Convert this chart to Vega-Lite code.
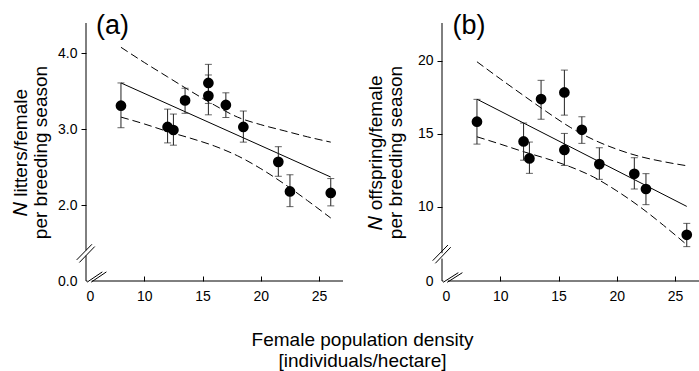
{
  "$schema": "https://vega.github.io/schema/vega-lite/v6.json",
  "padding": {"left": 11, "top": 12, "right": 0, "bottom": 0},
  "background": "#ffffff",
  "config": {
    "font": "Liberation Sans",
    "view": {"stroke": null},
    "axis": {"grid": false, "domain": false, "labelFont": "Liberation Sans", "titleFont": "Liberation Sans", "labelColor": "#000", "titleColor": "#000", "tickColor": "#000", "labelFontSize": 14, "titleFontWeight": "normal", "titleFontSize": 19, "titleLineHeight": 20}
  },
  "title": {"text": ["Female population density", "[individuals/hectare]"], "orient": "bottom", "anchor": "middle", "frame": "bounds", "fontSize": 19, "fontWeight": "normal", "font": "Liberation Sans", "offset": 28, "lineHeight": 21, "dx": 7, "color": "#000"},
  "datasets": {
    "aPts": [
      {"x": 8, "y": 3.31, "lo": 3.02, "hi": 3.61},
      {"x": 12, "y": 3.03, "lo": 2.82, "hi": 3.265},
      {"x": 12.5, "y": 2.99, "lo": 2.79, "hi": 3.2},
      {"x": 13.5, "y": 3.38, "lo": 3.21, "hi": 3.54},
      {"x": 15.5, "y": 3.61, "lo": 3.34, "hi": 3.855},
      {"x": 15.5, "y": 3.44, "lo": 3.19, "hi": 3.715},
      {"x": 17, "y": 3.32, "lo": 3.155, "hi": 3.48},
      {"x": 18.5, "y": 3.03, "lo": 2.83, "hi": 3.24},
      {"x": 21.5, "y": 2.57, "lo": 2.38, "hi": 2.77},
      {"x": 22.5, "y": 2.18, "lo": 1.98, "hi": 2.4},
      {"x": 26, "y": 2.16, "lo": 1.99, "hi": 2.35}
    ],
    "aLines": [
      {"s": "fit", "x": 8, "y": 3.61}, {"s": "fit", "x": 26, "y": 2.37},
      {"s": "upper", "x": 8, "y": 4.08}, {"s": "upper", "x": 10, "y": 3.88}, {"s": "upper", "x": 12, "y": 3.69}, {"s": "upper", "x": 14, "y": 3.5}, {"s": "upper", "x": 16, "y": 3.32}, {"s": "upper", "x": 18, "y": 3.16}, {"s": "upper", "x": 20, "y": 3.06}, {"s": "upper", "x": 22, "y": 2.98}, {"s": "upper", "x": 24, "y": 2.9}, {"s": "upper", "x": 26, "y": 2.83},
      {"s": "lower", "x": 8, "y": 3.16}, {"s": "lower", "x": 10, "y": 3.07}, {"s": "lower", "x": 12, "y": 2.97}, {"s": "lower", "x": 14, "y": 2.88}, {"s": "lower", "x": 16, "y": 2.78}, {"s": "lower", "x": 18, "y": 2.65}, {"s": "lower", "x": 20, "y": 2.48}, {"s": "lower", "x": 22, "y": 2.28}, {"s": "lower", "x": 24, "y": 2.06}, {"s": "lower", "x": 26, "y": 1.83}
    ],
    "aAxis": [
      {"x": 5, "y": 1.404, "x2": 5, "y2": 4.4},
      {"x": 5, "y": 1.0, "x2": 5, "y2": 1.335},
      {"x": 5, "y": 1.0, "x2": 5.12, "y2": 1.0},
      {"x": 5.5, "y": 1.0, "x2": 27.05, "y2": 1.0},
      {"x": 4.2, "y": 1.278, "x2": 5.51, "y2": 1.484},
      {"x": 4.43, "y": 1.244, "x2": 5.75, "y2": 1.454},
      {"x": 5.1, "y": 0.985, "x2": 6.4, "y2": 1.12},
      {"x": 5.45, "y": 0.985, "x2": 6.75, "y2": 1.12}
    ],
    "bPts": [
      {"x": 8, "y": 15.83, "lo": 14.3, "hi": 17.36},
      {"x": 12, "y": 14.48, "lo": 13.2, "hi": 15.74},
      {"x": 12.5, "y": 13.32, "lo": 12.3, "hi": 14.44},
      {"x": 13.5, "y": 17.38, "lo": 16.0, "hi": 18.66},
      {"x": 15.5, "y": 17.83, "lo": 16.28, "hi": 19.36},
      {"x": 15.5, "y": 13.9, "lo": 12.84, "hi": 15.03},
      {"x": 17, "y": 15.28, "lo": 14.35, "hi": 16.17},
      {"x": 18.5, "y": 12.93, "lo": 11.89, "hi": 14.05},
      {"x": 21.5, "y": 12.27, "lo": 11.23, "hi": 13.37},
      {"x": 22.5, "y": 11.23, "lo": 10.16, "hi": 12.28},
      {"x": 26, "y": 8.1, "lo": 7.29, "hi": 8.88}
    ],
    "bLines": [
      {"s": "fit", "x": 8, "y": 17.37}, {"s": "fit", "x": 26, "y": 10.04},
      {"s": "upper", "x": 8, "y": 19.93}, {"s": "upper", "x": 10, "y": 18.76}, {"s": "upper", "x": 12, "y": 17.62}, {"s": "upper", "x": 14, "y": 16.5}, {"s": "upper", "x": 16, "y": 15.45}, {"s": "upper", "x": 18, "y": 14.6}, {"s": "upper", "x": 20, "y": 13.95}, {"s": "upper", "x": 22, "y": 13.45}, {"s": "upper", "x": 24, "y": 13.1}, {"s": "upper", "x": 26, "y": 12.82},
      {"s": "lower", "x": 8, "y": 14.8}, {"s": "lower", "x": 10, "y": 14.3}, {"s": "lower", "x": 12, "y": 13.78}, {"s": "lower", "x": 14, "y": 13.3}, {"s": "lower", "x": 16, "y": 12.75}, {"s": "lower", "x": 18, "y": 12.05}, {"s": "lower", "x": 20, "y": 11.1}, {"s": "lower", "x": 22, "y": 10.0}, {"s": "lower", "x": 24, "y": 8.75}, {"s": "lower", "x": 26, "y": 7.42}
    ],
    "bAxis": [
      {"x": 5, "y": 6.84, "x2": 5, "y2": 22.58},
      {"x": 5, "y": 4.94, "x2": 5, "y2": 6.47},
      {"x": 5, "y": 4.94, "x2": 5.12, "y2": 4.94},
      {"x": 5.5, "y": 4.94, "x2": 27.05, "y2": 4.94},
      {"x": 4.2, "y": 6.33, "x2": 5.51, "y2": 7.4},
      {"x": 4.43, "y": 6.15, "x2": 5.75, "y2": 7.25},
      {"x": 5.1, "y": 4.85, "x2": 6.4, "y2": 5.51},
      {"x": 5.45, "y": 4.85, "x2": 6.75, "y2": 5.51}
    ]
  },
  "hconcat": [
    {
      "width": 257,
      "height": 258,
      "encoding": {
        "x": {"type": "quantitative", "scale": {"domain": [5, 27.05], "nice": false, "zero": false},
          "axis": {"title": null, "values": [5, 10, 15, 20, 25], "labelExpr": "datum.value < 6 ? '0' : datum.label", "tickSize": -5, "labelPadding": 13, "tickOpacity": {"condition": {"test": "datum.value < 6", "value": 0}, "value": 1}}},
        "y": {"type": "quantitative", "scale": {"domain": [1.0, 4.4], "nice": false, "zero": false},
          "axis": {"title": ["𝑁 litters/female", "per breeding season"], "values": [1, 2, 3, 4], "labelExpr": "datum.value < 1.5 ? '0.0' : format(datum.value, '.1f')", "tickSize": 5, "labelPadding": 4, "titlePadding": 7, "tickOpacity": {"condition": {"test": "datum.value < 1.5", "value": 0}, "value": 1}}}
      },
      "layer": [
        {
          "data": {"name": "aLines"},
          "transform": [{"filter": "datum.s == 'fit'"}],
          "mark": {"type": "line", "color": "#000", "strokeWidth": 1},
          "encoding": {"x": {"field": "x"}, "y": {"field": "y"}}
        },
        {
          "data": {"name": "aLines"},
          "transform": [{"filter": "datum.s != 'fit'"}],
          "mark": {"type": "line", "color": "#000", "strokeWidth": 1, "strokeDash": [8, 4], "interpolate": "monotone"},
          "encoding": {"x": {"field": "x"}, "y": {"field": "y"}, "detail": {"field": "s"}}
        },
        {
          "data": {"name": "aPts"},
          "mark": {"type": "rule", "color": "#222", "strokeWidth": 1},
          "encoding": {"x": {"field": "x"}, "y": {"field": "lo"}, "y2": {"field": "hi"}}
        },
        {
          "data": {"name": "aPts"},
          "mark": {"type": "tick", "orient": "horizontal", "color": "#222", "size": 7, "thickness": 1},
          "encoding": {"x": {"field": "x"}, "y": {"field": "lo"}}
        },
        {
          "data": {"name": "aPts"},
          "mark": {"type": "tick", "orient": "horizontal", "color": "#222", "size": 7, "thickness": 1},
          "encoding": {"x": {"field": "x"}, "y": {"field": "hi"}}
        },
        {
          "data": {"name": "aPts"},
          "mark": {"type": "circle", "color": "#000", "opacity": 1, "size": 115},
          "encoding": {"x": {"field": "x"}, "y": {"field": "y"}}
        },
        {
          "data": {"name": "aAxis"},
          "mark": {"type": "rule", "color": "#000", "strokeWidth": 1},
          "encoding": {"x": {"field": "x"}, "y": {"field": "y"}, "x2": {"field": "x2"}, "y2": {"field": "y2"}}
        },
        {
          "data": {"values": [{"label": "(a)", "px": 5.85, "py": 4.25}]},
          "mark": {"type": "text", "align": "left", "baseline": "alphabetic", "fontSize": 27, "font": "Liberation Sans", "color": "#000"},
          "encoding": {"x": {"field": "px"}, "y": {"field": "py"}, "text": {"field": "label"}}
        }
      ]
    },
    {
      "width": 257,
      "height": 258,
      "encoding": {
        "x": {"type": "quantitative", "scale": {"domain": [5, 27.05], "nice": false, "zero": false},
          "axis": {"title": null, "values": [5, 10, 15, 20, 25], "labelExpr": "datum.value < 6 ? '0' : datum.label", "tickSize": -5, "labelPadding": 13, "tickOpacity": {"condition": {"test": "datum.value < 6", "value": 0}, "value": 1}}},
        "y": {"type": "quantitative", "scale": {"domain": [4.94, 22.58], "nice": false, "zero": false},
          "axis": {"title": ["𝑁 offspring/female", "per breeding season"], "values": [4.94, 10, 15, 20], "labelExpr": "datum.value < 5 ? '0' : datum.label", "tickSize": 5, "labelPadding": 4, "titlePadding": 12, "tickOpacity": {"condition": {"test": "datum.value < 5", "value": 0}, "value": 1}}}
      },
      "layer": [
        {
          "data": {"name": "bLines"},
          "transform": [{"filter": "datum.s == 'fit'"}],
          "mark": {"type": "line", "color": "#000", "strokeWidth": 1},
          "encoding": {"x": {"field": "x"}, "y": {"field": "y"}}
        },
        {
          "data": {"name": "bLines"},
          "transform": [{"filter": "datum.s != 'fit'"}],
          "mark": {"type": "line", "color": "#000", "strokeWidth": 1, "strokeDash": [8, 4], "interpolate": "monotone"},
          "encoding": {"x": {"field": "x"}, "y": {"field": "y"}, "detail": {"field": "s"}}
        },
        {
          "data": {"name": "bPts"},
          "mark": {"type": "rule", "color": "#222", "strokeWidth": 1},
          "encoding": {"x": {"field": "x"}, "y": {"field": "lo"}, "y2": {"field": "hi"}}
        },
        {
          "data": {"name": "bPts"},
          "mark": {"type": "tick", "orient": "horizontal", "color": "#222", "size": 7, "thickness": 1},
          "encoding": {"x": {"field": "x"}, "y": {"field": "lo"}}
        },
        {
          "data": {"name": "bPts"},
          "mark": {"type": "tick", "orient": "horizontal", "color": "#222", "size": 7, "thickness": 1},
          "encoding": {"x": {"field": "x"}, "y": {"field": "hi"}}
        },
        {
          "data": {"name": "bPts"},
          "mark": {"type": "circle", "color": "#000", "opacity": 1, "size": 115},
          "encoding": {"x": {"field": "x"}, "y": {"field": "y"}}
        },
        {
          "data": {"name": "bAxis"},
          "mark": {"type": "rule", "color": "#000", "strokeWidth": 1},
          "encoding": {"x": {"field": "x"}, "y": {"field": "y"}, "x2": {"field": "x2"}, "y2": {"field": "y2"}}
        },
        {
          "data": {"values": [{"label": "(b)", "px": 5.9, "py": 21.81}]},
          "mark": {"type": "text", "align": "left", "baseline": "alphabetic", "fontSize": 27, "font": "Liberation Sans", "color": "#000"},
          "encoding": {"x": {"field": "px"}, "y": {"field": "py"}, "text": {"field": "label"}}
        }
      ]
    }
  ],
  "spacing": 99,
  "bounds": "flush",
  "resolve": {"scale": {"x": "independent", "y": "independent"}}
}
